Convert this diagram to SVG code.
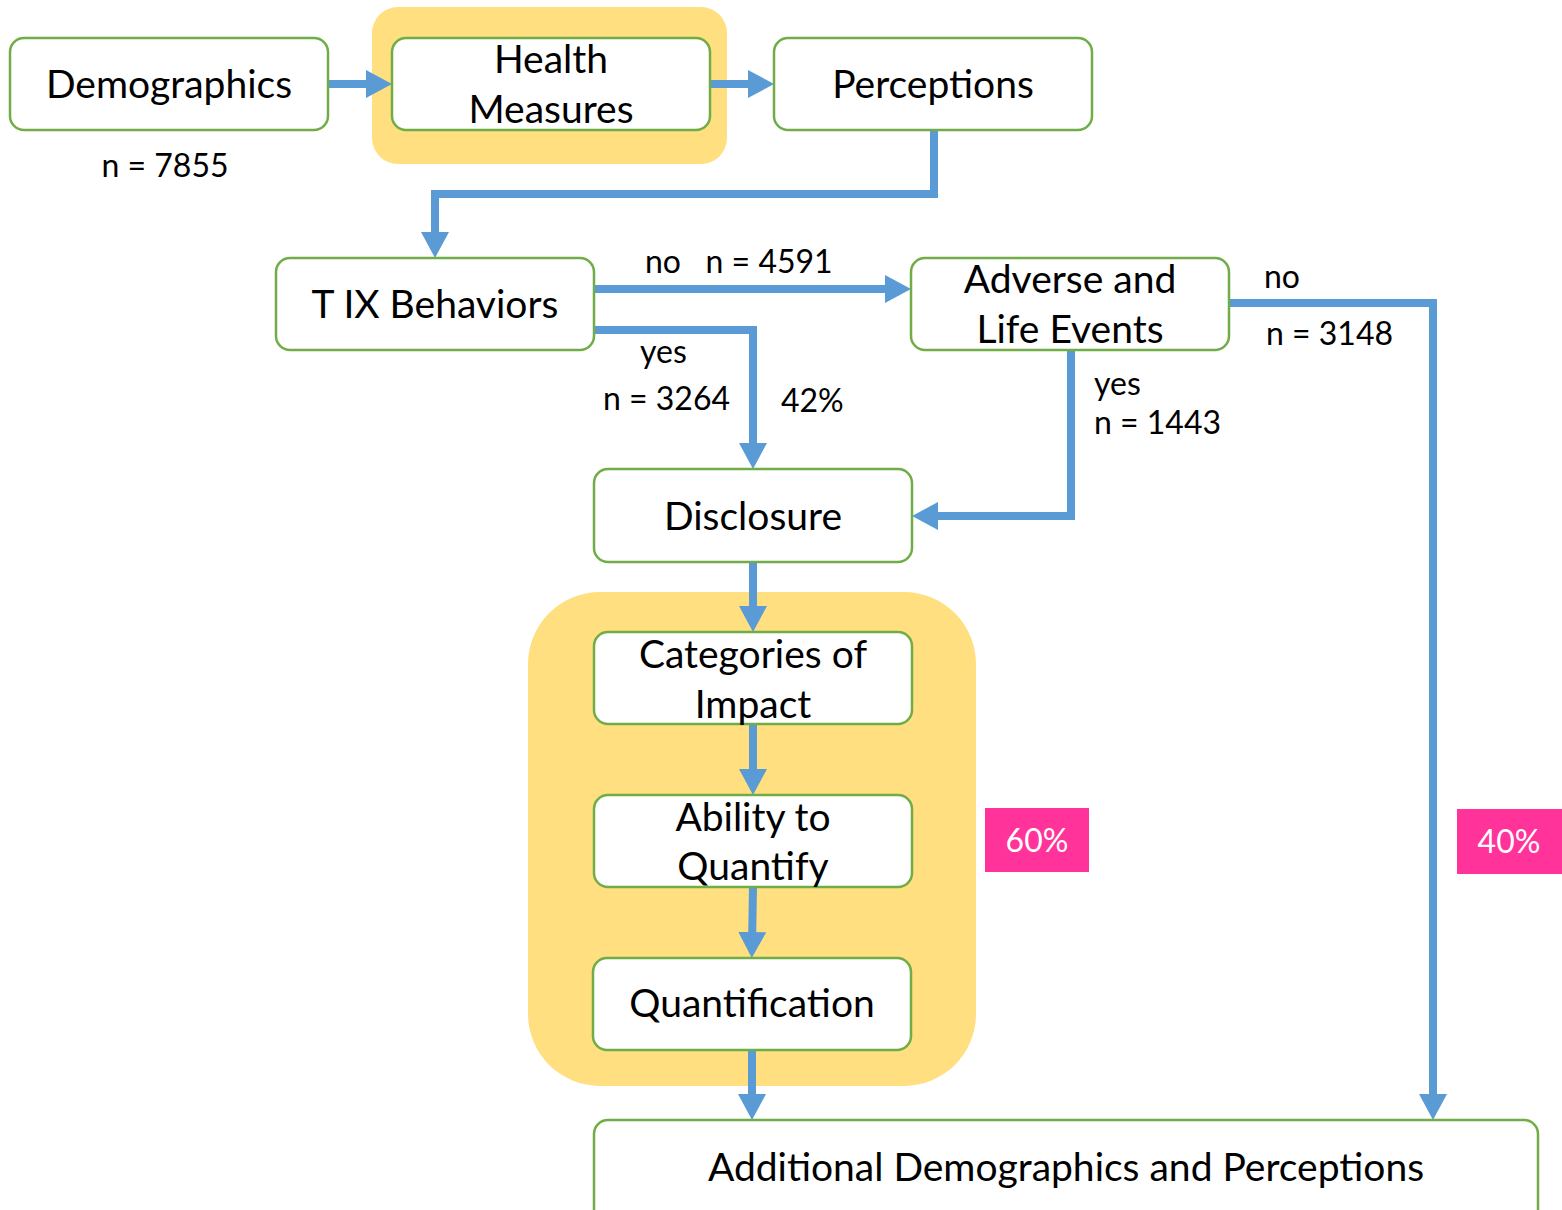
<svg xmlns="http://www.w3.org/2000/svg" width="1562" height="1210" viewBox="0 0 1562 1210">
  <style>
    .box { fill: #ffffff; stroke: #70ad47; stroke-width: 2.5; }
    .hl { fill: #ffdf80; }
    .tag { fill: #ff3399; }
    .t { font-family: Lato, "Open Sans", "Liberation Sans", sans-serif; font-size: 39px; fill: #000; text-anchor: middle; }
    .lb { font-family: Lato, "Open Sans", "Liberation Sans", sans-serif; font-size: 32px; fill: #000; white-space: pre; }
    .pt { font-family: Lato, "Open Sans", "Liberation Sans", sans-serif; font-size: 32px; fill: #fff; text-anchor: middle; }
    .c { fill: none; stroke: #5b9bd5; stroke-width: 8; marker-end: url(#ah); }
  </style>
  <defs>
    <marker id="ah" markerUnits="userSpaceOnUse" markerWidth="26" markerHeight="28" viewBox="0 0 26 28" refX="14" refY="14" orient="auto">
      <path d="M0,0 L26,14 L0,28 Z" fill="#5b9bd5"/>
    </marker>
  </defs>

  <!-- highlight panels -->
  <rect class="hl" x="372" y="7" width="355" height="157" rx="26"/>
  <rect class="hl" x="528" y="592" width="448" height="494" rx="72"/>

  <!-- connectors -->
  <g id="connectors">
    <path class="c" d="M328,84 H380"/>
    <path class="c" d="M710,84 H762"/>
    <path class="c" d="M934,130 V194 H435 V246"/>
    <path class="c" d="M594,289 H899"/>
    <path class="c" d="M594,330 H753 V457"/>
    <path class="c" d="M1071,350 V516 H924"/>
    <path class="c" d="M1229,303 H1433 V1108"/>
    <path class="c" d="M753,562 V620"/>
    <path class="c" d="M753,724 V783"/>
    <path class="c" d="M753,887 L752,946"/>
    <path class="c" d="M752,1050 V1108"/>
  </g>

  <!-- nodes -->
  <g id="demographics">
    <rect class="box" x="10" y="38" width="318" height="92" rx="14"/>
    <text class="t" x="169" y="98">Demographics</text>
  </g>
  <g id="health-measures">
    <rect class="box" x="392" y="38" width="318" height="92" rx="14"/>
    <text class="t" x="551" y="73">Health</text>
    <text class="t" x="551" y="123">Measures</text>
  </g>
  <g id="perceptions">
    <rect class="box" x="774" y="38" width="318" height="92" rx="14"/>
    <text class="t" x="933" y="98">Perceptions</text>
  </g>
  <g id="tix-behaviors">
    <rect class="box" x="276" y="258" width="318" height="92" rx="14"/>
    <text class="t" x="435" y="318">T IX Behaviors</text>
  </g>
  <g id="adverse-life-events">
    <rect class="box" x="911" y="258" width="318" height="92" rx="14"/>
    <text class="t" x="1070" y="293">Adverse and</text>
    <text class="t" x="1070" y="343">Life Events</text>
  </g>
  <g id="disclosure">
    <rect class="box" x="594" y="469" width="318" height="93" rx="14"/>
    <text class="t" x="753" y="530">Disclosure</text>
  </g>
  <g id="categories-of-impact">
    <rect class="box" x="594" y="632" width="318" height="92" rx="14"/>
    <text class="t" x="753" y="668">Categories of</text>
    <text class="t" x="753" y="718">Impact</text>
  </g>
  <g id="ability-to-quantify">
    <rect class="box" x="594" y="795" width="318" height="92" rx="14"/>
    <text class="t" x="753" y="831">Ability to</text>
    <text class="t" x="753" y="880">Quantify</text>
  </g>
  <g id="quantification">
    <rect class="box" x="593" y="958" width="318" height="92" rx="14"/>
    <text class="t" x="752" y="1017">Quantification</text>
  </g>
  <g id="additional">
    <rect class="box" x="594" y="1120" width="944" height="110" rx="14"/>
    <text class="t" x="1066" y="1181">Additional Demographics and Perceptions</text>
  </g>

  <!-- counts and branch labels -->
  <g id="labels">
    <text class="lb" x="165" y="177" text-anchor="middle">n = 7855</text>
    <text class="lb" x="645" y="273" xml:space="preserve">no   n = 4591</text>
    <text class="lb" x="640" y="363">yes</text>
    <text class="lb" x="603" y="410">n = 3264</text>
    <text class="lb" x="781" y="412">42%</text>
    <text class="lb" x="1094" y="395">yes</text>
    <text class="lb" x="1094" y="434">n = 1443</text>
    <text class="lb" x="1264" y="288">no</text>
    <text class="lb" x="1266" y="345">n = 3148</text>
  </g>

  <!-- share tags -->
  <g id="tag-60">
    <rect class="tag" x="985" y="808" width="104" height="64"/>
    <text class="pt" x="1037" y="852">60%</text>
  </g>
  <g id="tag-40">
    <rect class="tag" x="1457" y="809" width="105" height="65"/>
    <text class="pt" x="1509" y="853">40%</text>
  </g>
</svg>
